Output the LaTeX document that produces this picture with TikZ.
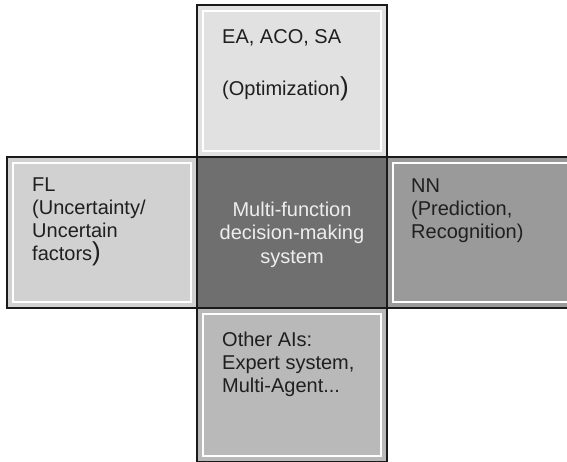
\documentclass[tikz,border=0pt]{standalone}
\usepackage{fontspec}
\setmainfont{Liberation Sans}
\definecolor{topfill}{HTML}{E1E1E1}
\definecolor{leftfill}{HTML}{D1D1D1}
\definecolor{corefill}{HTML}{6F6F6F}
\definecolor{rightfill}{HTML}{9A9A9A}
\definecolor{bottomfill}{HTML}{B9B9B9}
\definecolor{edge}{HTML}{1A1A1A}
\definecolor{ink}{HTML}{1F1F1F}
\definecolor{coreink}{HTML}{EEEEEE}
\newcommand{\bigparen}{{\fontsize{26}{23}\selectfont )}}
\tikzset{
  panel/.style={draw=edge, line width=2pt, inner sep=0pt, outer sep=0pt,
    minimum width=190pt},
  innerline/.style={draw=white, line width=1.4pt},
  % anchored at the baseline of the last line
  paneltext/.style={anchor=base west, inner sep=0pt, align=left, text=ink,
    font=\fontsize{20}{23}\selectfont},
  coretext/.style={inner sep=0pt, align=center, text=coreink,
    font=\fontsize{20}{23.5}\selectfont}
}
\begin{document}
\begin{tikzpicture}[x=1pt,y=-1pt]
  \useasboundingbox (0,0) rectangle (567,461);
  \begin{scope}
    \clip (0,0) rectangle (567,461);
    % outer panels
    \node[panel, fill=topfill, minimum height=152pt] (opt) at (292,81) {};
    \node[panel, fill=leftfill, minimum height=151pt] (fl) at (102,232.5) {};
    \node[panel, fill=rightfill, minimum height=151pt] (nn) at (482,232.5) {};
    \node[panel, fill=bottomfill, minimum height=154pt] (oth) at (292,385) {};
    % central panel
    \node[panel, fill=corefill, minimum height=151pt] (core) at (292,232.5) {};
    % white inner frames
    \foreach \p in {opt,fl,nn,oth}
      \draw[innerline] ([shift={(6,6)}]\p.north west) rectangle ([shift={(-6,-6)}]\p.south east);
  \end{scope}
  % labels
  \node[paneltext] (optlbl) at ([shift={(25,90)}]opt.north west)
    {EA, ACO, SA\\[29pt](Optimization\bigparen};
  \node[paneltext] (fllbl) at ([shift={(25,103)}]fl.north west)
    {FL\\(Uncertainty/\\Uncertain\\factors\bigparen};
  \node[paneltext] (nnlbl) at ([shift={(24,81)}]nn.north west)
    {NN\\(Prediction,\\Recognition)};
  \node[paneltext] (othlbl) at ([shift={(25,84)}]oth.north west)
    {Other AIs:\\Expert system,\\Multi-Agent...};
  \node[coretext] (corelbl) at ([yshift=-2pt]core.center)
    {Multi-function\\decision-making\\system};
\end{tikzpicture}
\end{document}
